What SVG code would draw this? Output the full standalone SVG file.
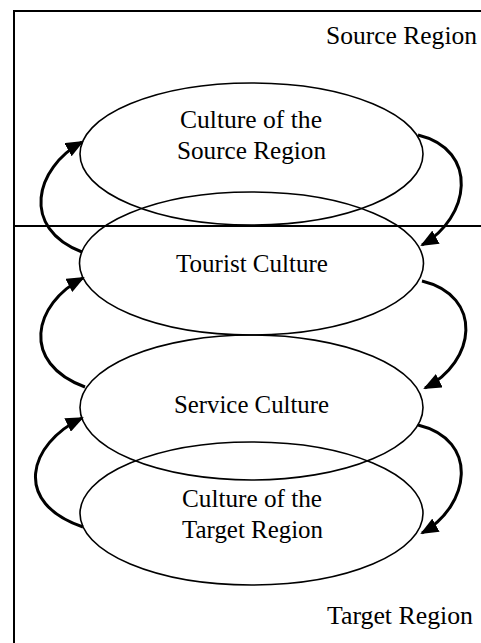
<svg xmlns="http://www.w3.org/2000/svg" width="481" height="643" viewBox="0 0 481 643">
<style>
.frame{stroke:#000;stroke-width:2;fill:none}
.node{stroke:#000;stroke-width:1.6;fill:none}
.lbl{font-family:"Liberation Serif","Times New Roman",serif;font-size:25px;fill:#000}
.arr{stroke:#000;stroke-width:3;fill:none;marker-end:url(#ah)}
</style>
<defs>
<marker id="ah" markerUnits="userSpaceOnUse" viewBox="0 0 18 15" refX="16" refY="7.5" markerWidth="18" markerHeight="15" orient="auto">
<path d="M0,0 L18,7.5 L0,15 Z" fill="#000"/>
</marker>
</defs>
<rect width="481" height="643" fill="#fff"/>
<g id="frame">
<path class="frame" d="M14,643 V11 H481"/>
<path class="frame" d="M14,226 H481"/>
<text class="lbl" x="326" y="44" textLength="151" lengthAdjust="spacingAndGlyphs">Source Region</text>
<text class="lbl" x="327" y="624" textLength="146" lengthAdjust="spacingAndGlyphs">Target Region</text>
</g>
<g id="source-culture">
<ellipse class="node" cx="251.5" cy="154" rx="171.5" ry="71"/>
<text class="lbl" x="180" y="128" textLength="142" lengthAdjust="spacingAndGlyphs">Culture of the</text>
<text class="lbl" x="177" y="159" textLength="149" lengthAdjust="spacingAndGlyphs">Source Region</text>
</g>
<g id="tourist-culture">
<ellipse class="node" cx="251.5" cy="263.5" rx="172" ry="71.5"/>
<text class="lbl" x="176" y="272" textLength="152" lengthAdjust="spacingAndGlyphs">Tourist Culture</text>
</g>
<g id="service-culture">
<ellipse class="node" cx="251.5" cy="407.5" rx="171.5" ry="72.5"/>
<text class="lbl" x="174" y="413" textLength="155" lengthAdjust="spacingAndGlyphs">Service Culture</text>
</g>
<g id="target-culture">
<ellipse class="node" cx="251.5" cy="513.5" rx="171.5" ry="71.5"/>
<text class="lbl" x="182" y="507" textLength="140" lengthAdjust="spacingAndGlyphs">Culture of the</text>
<text class="lbl" x="182" y="538" textLength="141" lengthAdjust="spacingAndGlyphs">Target Region</text>
</g>
<g id="connectors">
<path class="arr" d="M82,252 C20,228 35,168 82,142"/>
<path class="arr" d="M85,387 C20,363 33,304 83,278"/>
<path class="arr" d="M83,527 C12,503 28,444 82,418"/>
<path class="arr" d="M418,135 C480,150 470,218 422,245"/>
<path class="arr" d="M422,281 C484,296 476,362 425,388"/>
<path class="arr" d="M418,425 C480,440 470,506 422,533"/>
</g>
</svg>
